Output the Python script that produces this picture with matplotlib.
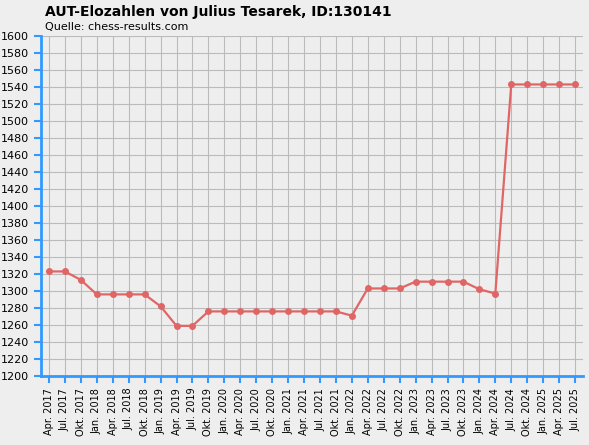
import matplotlib
matplotlib.use("Agg")
import matplotlib.pyplot as plt

labels = []
for y in range(2017, 2026):
    for m in ["Jan.", "Apr.", "Jul.", "Okt."]:
        labels.append(f"{m} {y}")
labels = labels[1:-1]
values = [1323, 1323, 1313,
          1296, 1296, 1296, 1296,
          1282, 1259, 1259, 1276,
          1276, 1276, 1276, 1276,
          1276, 1276, 1276, 1276,
          1271, 1303, 1303, 1303,
          1311, 1311, 1311, 1311,
          1302, 1297, 1543, 1543,
          1543, 1543, 1543]

W, H = 589, 445
fig = plt.figure(figsize=(W/100, H/100), dpi=100, facecolor="#eeeeee")
ax = fig.add_axes([41/W, 1-376/H, (583-41)/W, (376-36)/H], facecolor="#eeeeee")
x = list(range(len(values)))
ax.plot(x, values, color="#e06666", lw=1.6, marker="o", ms=4, zorder=3)
ax.set_xlim(-0.5, len(values)-0.5)
ax.set_ylim(1200, 1600)
ax.set_yticks(range(1200, 1601, 20))
ax.set_xticks(x)
ax.set_xticklabels(labels, rotation=90, fontsize=7)
ax.tick_params(axis="y", labelsize=8, color="#3399ff", length=5, width=1.5)
ax.tick_params(axis="x", color="#3399ff", length=5, width=1.5)
ax.grid(True, color="#bbbbbb", lw=0.8)
for s in ["top", "right"]:
    ax.spines[s].set_visible(False)
for s in ["left", "bottom"]:
    ax.spines[s].set_color("#3399ff")
    ax.spines[s].set_linewidth(2)
fig.text(45/W, 1-12/H, "AUT-Elozahlen von Julius Tesarek, ID:130141", fontsize=10, fontweight="bold", va="center")
fig.text(45/W, 1-27/H, "Quelle: chess-results.com", fontsize=8, va="center")
fig.savefig("out.png", dpi=100, facecolor="#eeeeee")
